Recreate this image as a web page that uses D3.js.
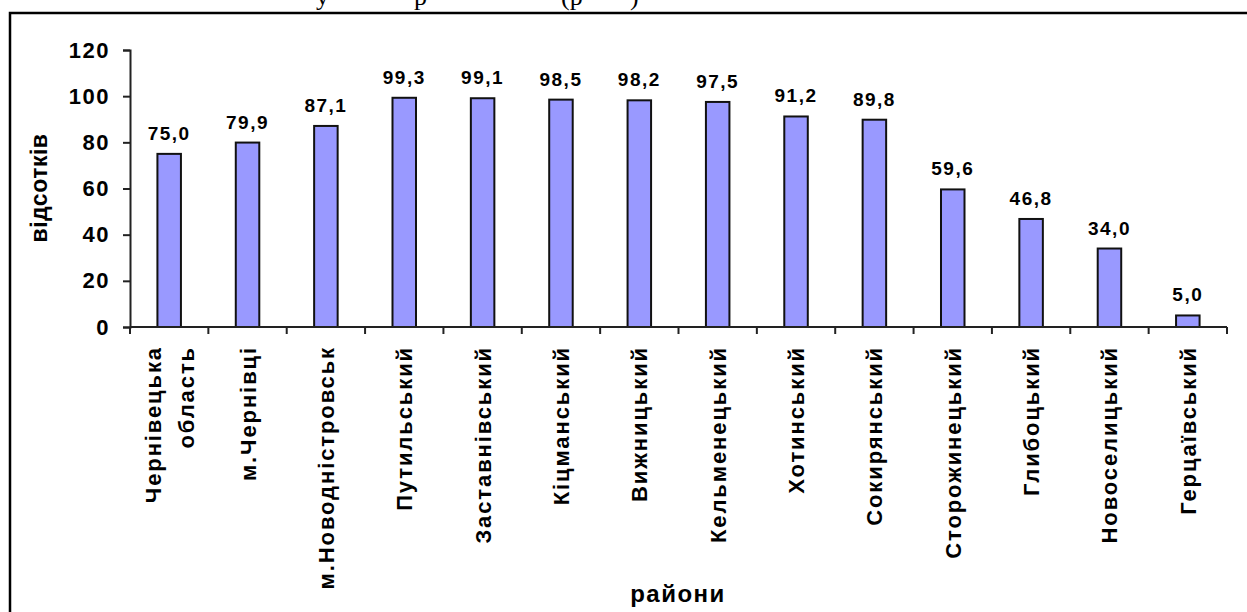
<!DOCTYPE html>
<html>
<head>
<meta charset="utf-8">
<script src="https://cdn.jsdelivr.net/npm/d3@7"></script>
<style>
  body { margin: 0; background: #fff; }
  text { font-family: "Liberation Sans", Arial, sans-serif; font-weight: bold; }
</style>
</head>
<body>
<div id="chart"></div>
<script>
'use strict';

// data
var districts = [
  ["Чернівецька", "область"], ["м.Чернівці"], ["м.Новодністровськ"], ["Путильський"],
  ["Заставнівський"], ["Кіцманський"], ["Вижницький"], ["Кельменецький"],
  ["Хотинський"], ["Сокирянський"], ["Сторожинецький"], ["Глибоцький"],
  ["Новоселицький"], ["Герцаївський"]
];
var percents = [75.0, 79.9, 87.1, 99.3, 99.1, 98.5, 98.2, 97.5, 91.2, 89.8, 59.6, 46.8, 34.0, 5.0];
var yTicks = [0, 20, 40, 60, 80, 100, 120];
var yTitle = "відсотків";
var xTitle = "райони";

var W = 1247, H = 612;

var svg = d3.select("#chart").append("svg")
  .attr("width", W)
  .attr("height", H);

// line of page text above the frame, cut by the crop
svg.append("text")
  .attr("y", 5)
  .style("font-family", "'Liberation Serif', serif")
  .style("font-weight", "normal")
  .style("font-size", "26px")
  .selectAll("tspan")
  .data([["у", 316], ["р", 414], ["(р", 561], [")", 630]])
  .enter().append("tspan")
    .attr("x", function(d) { return d[1]; })
    .text(function(d) { return d[0]; });

// frame
svg.append("path")
  .attr("d", "M10," + H + " V13 H" + W)
  .attr("fill", "none")
  .attr("stroke", "#000")
  .attr("stroke-width", 2.5);

// scales
var x = d3.scaleBand()
  .domain(d3.range(districts.length))
  .range([130, 1227])
  .paddingInner(0.7)
  .paddingOuter(0.35);

var y = d3.scaleLinear().domain([0, 120]).range([327, 50]);

var g = svg.append("g");

// bars
g.selectAll(".bar")
  .data(percents)
  .enter().append("rect")
    .attr("class", "bar")
    .attr("x", function(d, i) { return x(i); })
    .attr("y", function(d) { return y(d); })
    .attr("width", x.bandwidth())
    .attr("height", function(d) { return y(0) - y(d); })
    .attr("fill", "#9999ff")
    .attr("stroke", "#111")
    .attr("stroke-width", 2);

// value labels
g.selectAll(".val")
  .data(percents)
  .enter().append("text")
    .attr("class", "val")
    .attr("x", function(d, i) { return x(i) + x.bandwidth() / 2; })
    .attr("y", function(d) { return y(d) - 14; })
    .attr("text-anchor", "middle")
    .style("font-size", "19px")
    .style("letter-spacing", "1.5px")
    .text(function(d) { return d.toFixed(1).replace(".", ","); });

// Y axis
var yAxis = g.append("g")
  .attr("transform", "translate(130,0)")
  .call(d3.axisLeft(y).tickValues(yTicks).tickSize(7).tickPadding(13));
yAxis.selectAll("text")
  .style("font-size", "22px")
  .style("letter-spacing", "1.5px")
  .attr("fill", "#000");
yAxis.selectAll("line, path").attr("stroke", "#222").attr("stroke-width", 2);

// X axis: ticks at category boundaries
var bounds = d3.range(districts.length + 1).map(function(i) { return 130 + i * x.step(); });
g.append("line")
  .attr("x1", 130).attr("x2", 1227)
  .attr("y1", y(0)).attr("y2", y(0))
  .attr("stroke", "#222").attr("stroke-width", 2);
g.selectAll(".xtick")
  .data(bounds)
  .enter().append("line")
    .attr("class", "xtick")
    .attr("x1", function(d) { return d; }).attr("x2", function(d) { return d; })
    .attr("y1", y(0)).attr("y2", y(0) + 7)
    .attr("stroke", "#222").attr("stroke-width", 2);

// category labels, rotated
var lineGap = 33;
var labels = g.selectAll(".xlab")
  .data(districts)
  .enter().append("text")
    .attr("class", "xlab")
    .attr("transform", function(d, i) {
      return "translate(" + (x(i) + x.bandwidth() / 2) + ",346) rotate(-90)";
    })
    .attr("text-anchor", "end")
    .style("font-size", "22px")
    .style("letter-spacing", "1.9px");
labels.selectAll("tspan")
  .data(function(d) { return d.map(function(s, j) { return {s: s, j: j, n: d.length}; }); })
  .enter().append("tspan")
    .attr("x", 0)
    .attr("y", function(d) { return (d.j - (d.n - 1) / 2) * lineGap + 8; })
    .text(function(d) { return d.s; });

// axis titles
svg.append("text")
  .attr("transform", "translate(47,188) rotate(-90)")
  .attr("text-anchor", "middle")
  .style("font-size", "23px")
  .style("letter-spacing", "0.5px")
  .text(yTitle);

svg.append("text")
  .attr("x", 678)
  .attr("y", 602)
  .attr("text-anchor", "middle")
  .style("font-size", "24px")
  .style("letter-spacing", "1.5px")
  .text(xTitle);
</script>
</body>
</html>
